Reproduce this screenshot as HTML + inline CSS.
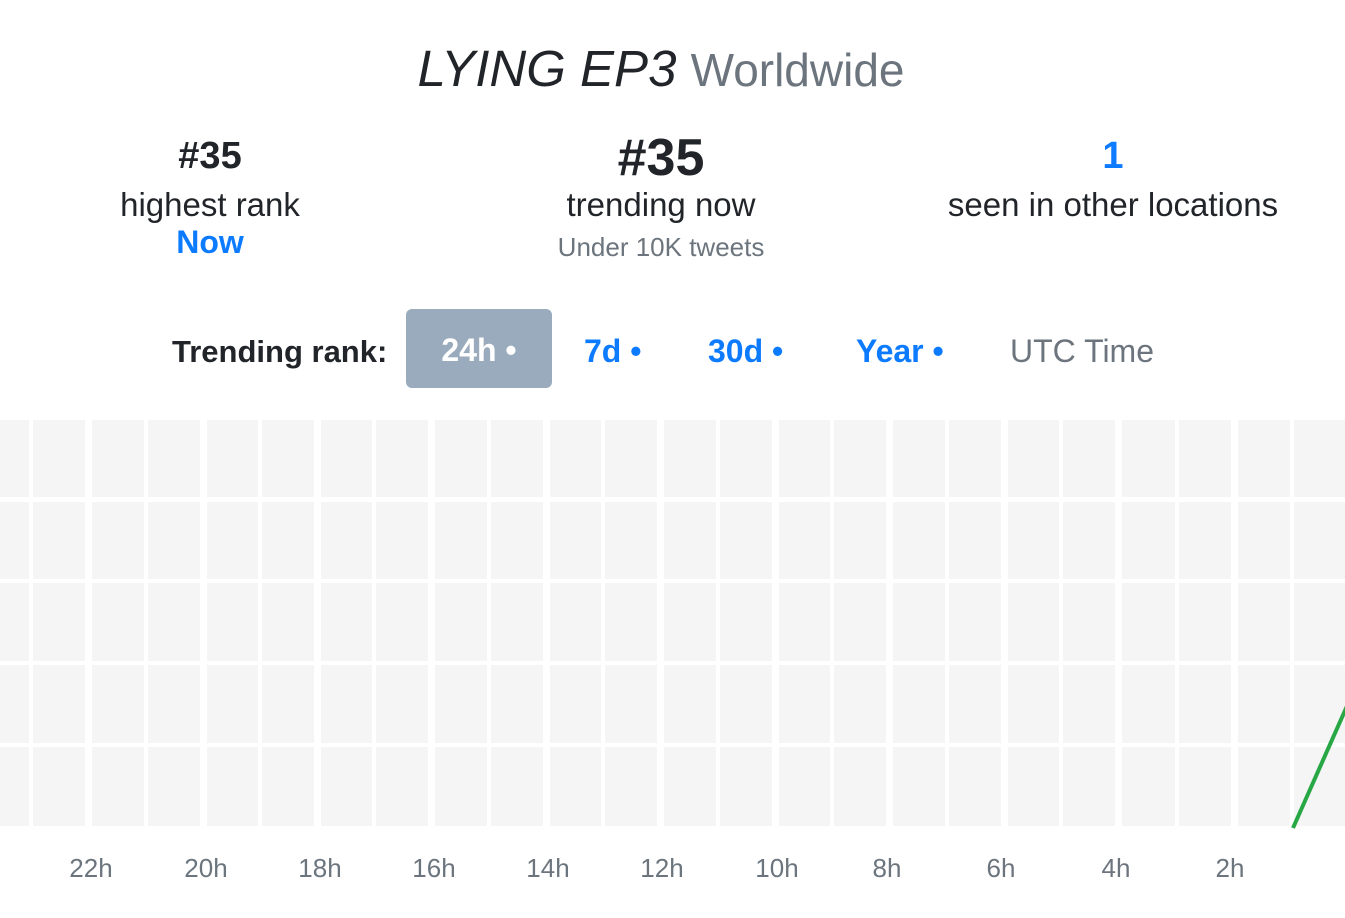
<!DOCTYPE html>
<html><head><style>
body{margin:0;width:1345px;height:918px;background:#fff;font-family:"Liberation Sans",sans-serif;position:relative;overflow:hidden}
.a{position:absolute;white-space:nowrap}
.c{transform:translateX(-50%)}
.blue{color:#0d7bff}
.gray{color:#6c757d}
</style></head><body>
<div class="a c" style="left:661px;top:39px;font-size:51px;line-height:60px;color:#212529"><i>LYING EP3</i> <span class="gray" style="font-size:46px">Worldwide</span></div>

<div class="a c" style="left:210px;top:135px;font-size:38px;font-weight:bold;color:#212529">#35</div>
<div class="a c" style="left:210px;top:186px;font-size:33px;color:#212529">highest rank</div>
<div class="a c blue" style="left:210px;top:224px;font-size:32px;font-weight:bold">Now</div>

<div class="a c" style="left:661px;top:128px;font-size:52px;font-weight:bold;color:#212529">#35</div>
<div class="a c" style="left:661px;top:186px;font-size:33px;color:#212529">trending now</div>
<div class="a c gray" style="left:661px;top:232px;font-size:26px">Under 10K tweets</div>

<div class="a c blue" style="left:1113px;top:135px;font-size:38px;font-weight:bold">1</div>
<div class="a c" style="left:1113px;top:186px;font-size:33px;color:#212529">seen in other locations</div>

<div class="a" style="left:172px;top:334px;font-size:31px;font-weight:bold;color:#212529">Trending rank:</div>
<div class="a" style="left:406px;top:309px;width:146px;height:79px;background:#9aabbd;border-radius:6px;color:#fff;font-size:32px;font-weight:bold;line-height:82px;text-align:center">24h •</div>
<div class="a blue" style="left:584px;top:333px;font-size:32px;font-weight:bold">7d •</div>
<div class="a blue" style="left:708px;top:333px;font-size:32px;font-weight:bold">30d •</div>
<div class="a blue" style="left:856px;top:333px;font-size:32px;font-weight:bold">Year •</div>
<div class="a gray" style="left:1010px;top:333px;font-size:32px">UTC Time</div>

<svg class="a" style="left:0;top:0" width="1345" height="918">
<rect x="0" y="420" width="1345" height="406" fill="#f5f5f5"/>
<g fill="#fff">
<rect x="0" y="497" width="1345" height="5"/>
<rect x="0" y="579" width="1345" height="4"/>
<rect x="0" y="661" width="1345" height="4"/>
<rect x="0" y="743" width="1345" height="4"/>
<rect x="29" y="420" width="4" height="406"/><rect x="85" y="420" width="7" height="406"/>
<rect x="144" y="420" width="4" height="406"/><rect x="200" y="420" width="7" height="406"/>
<rect x="258" y="420" width="4" height="406"/><rect x="314" y="420" width="7" height="406"/>
<rect x="372" y="420" width="4" height="406"/><rect x="428" y="420" width="7" height="406"/>
<rect x="487" y="420" width="4" height="406"/><rect x="543" y="420" width="7" height="406"/>
<rect x="601" y="420" width="4" height="406"/><rect x="657" y="420" width="7" height="406"/>
<rect x="716" y="420" width="4" height="406"/><rect x="772" y="420" width="7" height="406"/>
<rect x="830" y="420" width="4" height="406"/><rect x="886" y="420" width="7" height="406"/>
<rect x="945" y="420" width="4" height="406"/><rect x="1001" y="420" width="7" height="406"/>
<rect x="1059" y="420" width="4" height="406"/><rect x="1115" y="420" width="7" height="406"/>
<rect x="1175" y="420" width="4" height="406"/><rect x="1231" y="420" width="7" height="406"/>
<rect x="1290" y="420" width="4" height="406"/>
</g>
<line x1="1293" y1="828" x2="1347" y2="706" stroke="#28a745" stroke-width="4"/>
<g font-family="Liberation Sans, sans-serif" font-size="26" fill="#6c757d" text-anchor="middle">
<text x="91" y="877">22h</text><text x="206" y="877">20h</text><text x="320" y="877">18h</text>
<text x="434" y="877">16h</text><text x="548" y="877">14h</text><text x="662" y="877">12h</text>
<text x="777" y="877">10h</text><text x="887" y="877">8h</text><text x="1001" y="877">6h</text>
<text x="1116" y="877">4h</text><text x="1230" y="877">2h</text>
</g>
</svg>
</body></html>
